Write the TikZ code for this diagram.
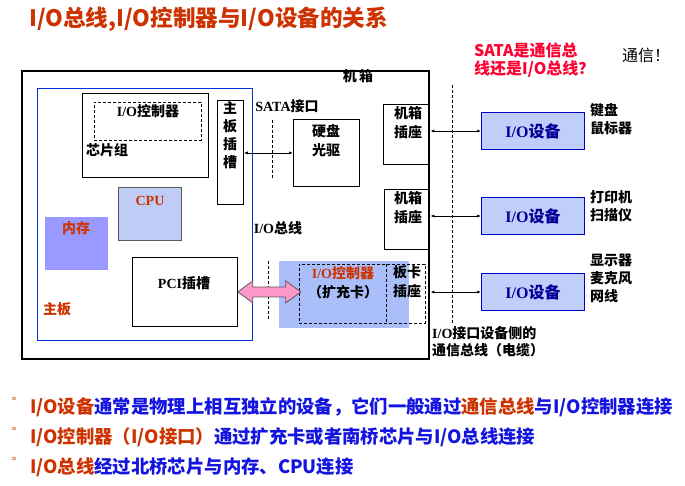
\documentclass[tikz,border=0pt]{standalone}
\usepackage{fontspec}
\setmainfont{Liberation Serif}
\newfontfamily\cjk{Noto Sans CJK SC}
\usetikzlibrary{arrows.meta}
\definecolor{orc}{RGB}{204,51,0}
\definecolor{bluec}{RGB}{20,20,225}
\definecolor{navyc}{RGB}{0,0,150}
\definecolor{devfill}{RGB}{192,206,250}
\definecolor{devdraw}{RGB}{0,0,204}
\definecolor{cpufill}{RGB}{190,204,246}
\definecolor{memfill}{RGB}{153,153,255}
\definecolor{cardfill}{RGB}{170,191,250}
\definecolor{pinkc}{RGB}{255,153,204}
\definecolor{redq}{RGB}{255,0,51}
\definecolor{mbblue}{RGB}{0,51,221}
\newcommand\fsz[2]{\fontsize{#1}{#2}\selectfont}
\newcommand\zh[1]{{\cjk\bfseries #1}}
\begin{document}
\begin{tikzpicture}[x=1pt,y=-1pt,
  box/.style={draw, line width=0.8pt, inner sep=0, anchor=north west},
  lbl/.style={font=\fsz{14}{19}\bfseries, align=center, inner sep=0},
  llbl/.style={font=\fsz{14}{18}\bfseries, align=left, inner sep=0, anchor=west},
  darr/.style={{Latex[length=4pt,width=3pt]}-{Latex[length=4pt,width=3pt]}, line width=0.7pt},
  vdash/.style={dash pattern=on 3pt off 2pt, line width=0.6pt},
  devbox/.style={draw=devdraw, fill=devfill, line width=1pt, inner sep=0, anchor=north west, minimum width=103, minimum height=37, font=\fsz{16}{18}\bfseries\color{navyc}},
  bul/.style={font=\fsz{18.35}{20}\cjk\bfseries, anchor=west, inner sep=0},
  dot/.style={font=\fsz{12}{12}\cjk\color{orc}, inner sep=0}
]
\useasboundingbox (0,0) rectangle (685,486);
\fill[white] (0,0) rectangle (685,486);
% title
\node[font=\fsz{22.6}{24}\cjk\bfseries\color{orc}, anchor=west, inner sep=0] (title) at (29,19) {I/O总线,I/O控制器与I/O设备的关系};
% case
\node[box, line width=2.4pt, minimum width=407, minimum height=288] (case) at (21,70) {};
\node[lbl] (caselbl) at (358,76) {\zh{机\,箱}};
% motherboard
\node[box, draw=mbblue, line width=1pt, minimum width=215, minimum height=252] (mb) at (37,88) {};
\node[lbl, text=orc] (mblbl) at (57,309) {\zh{主板}};
% chipset
\node[box, minimum width=126, minimum height=84] (chip) at (82,93) {};
\node[box, vdash, minimum width=107, minimum height=38] (chipio) at (94,102) {};
\node[lbl] (chipiolbl) at (148,111) {I/O\zh{控制器}};
\node[lbl] (chiplbl) at (107,150) {\zh{芯片组}};
% main board slot
\node[box, minimum width=26, minimum height=104] (slot) at (217,100) {};
\node[lbl] (s1) at (230,108) {\zh{主}};
\node[lbl] (s2) at (230,126) {\zh{板}};
\node[lbl] (s3) at (230,144) {\zh{插}};
\node[lbl] (s4) at (230,162) {\zh{槽}};
% cpu & memory
\node[box, draw=black!65, fill=cpufill, minimum width=63, minimum height=53] (cpu) at (118,187) {};
\node[lbl, text=orc] (cpulbl) at (150,201) {CPU};
\node[box, draw=none, fill=memfill, minimum width=63, minimum height=53] (mem) at (45,217) {};
\node[lbl, text=orc] (memlbl) at (76,228) {\zh{内存}};
% PCI
\node[box, minimum width=105, minimum height=69] (pci) at (132,257) {};
\node[lbl] (pcilbl) at (184,283) {PCI\zh{插槽}};
% hard disk
\node[box, minimum width=66, minimum height=67] (hd) at (293,119) {};
\node[lbl] (hdlbl) at (326,141) {\zh{硬盘}\\\zh{光驱}};
\node[lbl] (sata) at (287,106) {SATA\zh{接口}};
\draw[vdash] (272,120) coordinate (sd1) -- (272,178) coordinate (sd2);
\draw[darr] (slot.east |- hd.west) -- (hd.west);
\node[lbl] (iobus) at (278,228) {I/O\zh{总线}};
% case sockets
\node[box, minimum width=45, minimum height=60] (sock1) at (383,104) {};
\node[lbl] (sock1lbl) at (408,123) {\zh{机箱}\\\zh{插座}};
\node[box, minimum width=44, minimum height=60] (sock2) at (384,189) {};
\node[lbl] (sock2lbl) at (408,208) {\zh{机箱}\\\zh{插座}};
% expansion card
\fill[cardfill] (279,261) rectangle (409,328);
\node[box, vdash, minimum width=126, minimum height=59] (card) at (299,264) {};
\draw[vdash] (386,264) coordinate (cd1) -- (386,323) coordinate (cd2);
\node[lbl, text=orc] (cardio) at (343,273) {I/O\zh{控制器}};
\node[lbl] (cardlbl) at (343,292) {\zh{（扩充卡）}};
\node[lbl] (bksock) at (407,282) {\zh{板卡}\\\zh{插座}};
\draw[vdash] (268,261) coordinate (pd1) -- (268,319) coordinate (pd2);
\draw[draw=black!65, fill=pinkc, line width=0.8pt] (pci.east) -- ++(15,-11) -- ++(0,6) -- ++(33,0) -- ++(0,-6) -- ++(15,11) -- ++(-15,11) -- ++(0,-6) -- ++(-33,0) -- ++(0,6) -- cycle;
% devices
\node[devbox] (dev1) at (481,112) {I/O\zh{设备}};
\node[devbox] (dev2) at (481,197) {I/O\zh{设备}};
\node[devbox] (dev3) at (481,273) {I/O\zh{设备}};
\draw[darr] (dev1.west -| case.east) -- (dev1.west);
\draw[darr] (dev2.west -| case.east) -- (dev2.west);
\draw[darr] (dev3.west -| case.east) -- (dev3.west);
\draw[vdash] (452,85) coordinate (rd1) -- (452,325) coordinate (rd2);
\node[llbl] (kb) at (590,119) {\zh{键盘}\\\zh{鼠标器}};
\node[llbl] (pr) at (590,206) {\zh{打印机}\\\zh{扫描仪}};
\node[llbl] (disp) at (590,278) {\zh{显示器}\\\zh{麦克风}\\\zh{网线}};
\node[llbl, font=\fsz{14}{17}\bfseries] (cable) at (432,342) {I/O\zh{接口设备侧的}\\\zh{通信总线（电缆）}};
% question
\node[font=\fsz{16}{18}\cjk\bfseries\color{redq}, align=left, anchor=west, inner sep=0] (q) at (474,60) {SATA是通信总\\线还是I/O总线？};
\node[font=\fsz{16}{17}\cjk, anchor=west, inner sep=0] (ans) at (622,55) {通信！};
% bullets
\node[dot] (d1) at (14,402) {°};
\node[dot] (d2) at (14,432) {°};
\node[dot] (d3) at (14,462) {°};
\node[bul] (b1) at (30,407) {\color{orc}I/O设备\color{bluec}通常是物理上相互独立的设备，它们一般通过\color{orc}通信总线\color{bluec}与I/O控制器连接};
\node[bul] (b2) at (30,437) {\color{orc}I/O控制器（I/O接口）\color{bluec}通过扩充卡或者南桥芯片与I/O总线连接};
\node[bul] (b3) at (30,467) {\color{orc}I/O总线\color{bluec}经过北桥芯片与内存、CPU连接};
\end{tikzpicture}
\end{document}
